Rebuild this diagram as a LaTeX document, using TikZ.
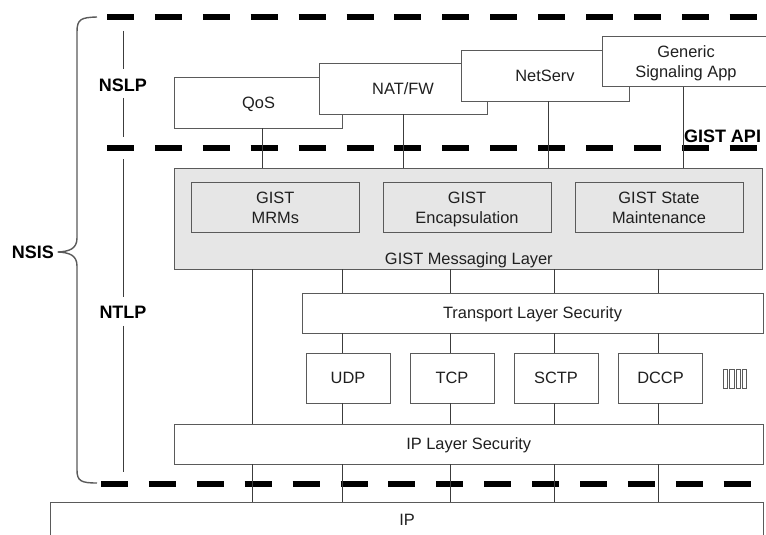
\documentclass[tikz,border=0pt]{standalone}
\usepackage{fontspec}
\setmainfont{Liberation Sans}
\definecolor{edge}{HTML}{5A5A5A}
\definecolor{wire}{HTML}{3C3C3C}
\definecolor{fillg}{HTML}{E6E6E6}
\definecolor{ink}{HTML}{1F1F1F}
\tikzset{
  box/.style={draw=edge, line width=1pt, fill=white, inner sep=0pt, outer sep=0pt,
    minimum height=50pt, font=\fontsize{16.4}{20}\selectfont, text=ink,
    text depth=0pt, align=center},
  greybox/.style={box, fill=fillg},
  txt/.style={font=\fontsize{16.4}{20}\selectfont, text=ink, inner sep=0pt, text depth=0pt},
  conn/.style={draw=wire, line width=1pt},
  apiline/.style={draw=black, line width=6pt, dash pattern=on 27pt off 20.9pt},
  tag/.style={font=\fontsize{18}{20}\selectfont\bfseries, text=black, inner sep=0pt, text depth=0pt},
  bracket/.style={draw=edge, line width=1.4pt},
}
\begin{document}
\begin{tikzpicture}[x=1pt,y=-1pt]
\clip (0,0) rectangle (766,535);
\fill[white] (0,0) rectangle (766,535);

% layer separators
\draw[apiline] (107,17) -- (800,17);
\draw[apiline] (107,148) -- (800,148);
\draw[apiline] (101,484) -- (800,484);

% NSLP applications (each one overlapping the previous)
\node[box, minimum width=168pt] (qos) at (258.6,103) {QoS};
\node[box, minimum width=168pt] (natfw) at (403,89) {NAT/FW};
\node[box, minimum width=168pt] (netserv) at (545,76) {NetServ};
\node[box, minimum width=168pt] (gsa) at (686,62) {Generic\\Signaling App};

% GIST messaging layer
\node[greybox, minimum width=588pt, minimum height=101pt] (gml) at (468.85,218.5) {};
\node[txt] (gmltxt) at ([yshift=10.4pt]gml.south) {GIST Messaging Layer};
\node[greybox, minimum width=168pt] (mrm) at (275.3,207.5) {GIST\\MRMs};
\node[greybox, minimum width=168pt] (enc) at (467,207.5) {GIST\\Encapsulation};
\node[greybox, minimum width=168pt] (stm) at (659,207.5) {GIST State\\Maintenance};

% transport
\node[box, minimum width=461pt, minimum height=40pt] (tls) at (532.5,313) {Transport Layer Security};
\node[box, minimum width=84pt] (udp) at (348,378) {UDP};
\node[box, minimum width=84pt] (tcp) at (452,378) {TCP};
\node[box, minimum width=84pt] (sctp) at (556,378) {SCTP};
\node[box, minimum width=84pt] (dccp) at (660.5,378) {DCCP};
\foreach \i in {0,...,3}
  \draw[draw=edge, line width=0.9pt] (723.5+6.3*\i,369.5) rectangle ++(4.3,18.5);

% network
\node[box, minimum width=588.5pt, minimum height=40pt] (ipls) at (468.75,444) {IP Layer Security};
\node[box, minimum width=713pt, minimum height=60pt] (ip) at (406.5,532) {};
\node[txt] (iptxt) at (407,520) {IP};

% column positions of the connectors
\coordinate (u1) at (262,0);
\coordinate (u2) at (403,0);
\coordinate (u3) at (548,0);
\coordinate (u4) at (683,0);
\coordinate (k1) at (252.5,0);
\coordinate (k2) at (342.5,0);
\coordinate (k3) at (450,0);
\coordinate (k4) at (554.5,0);
\coordinate (k5) at (658.5,0);

% applications down to GIST
\draw[conn] (qos.south -| u1) -- (gml.north -| u1);
\draw[conn] (natfw.south -| u2) -- (gml.north -| u2);
\draw[conn] (netserv.south -| u3) -- (gml.north -| u3);
\draw[conn] (gsa.south -| u4) -- (gml.north -| u4);

% GIST down to IP
\draw[conn] (gml.south -| k1) -- (ipls.north -| k1);
\draw[conn] (ipls.south -| k1) -- (ip.north -| k1);
\foreach \c/\b in {k2/udp,k3/tcp,k4/sctp,k5/dccp}{
  \draw[conn] (gml.south -| \c) -- (tls.north -| \c);
  \draw[conn] (tls.south -| \c) -- (\b.north -| \c);
  \draw[conn] (\b.south -| \c) -- (ipls.north -| \c);
  \draw[conn] (ipls.south -| \c) -- (ip.north -| \c);
}

% layer labels
\node[tag] (nslp) at (123,85) {NSLP};
\node[tag] (ntlp) at (123,312) {NTLP};
\node[tag] (nsis) at (33,252) {NSIS};
\node[tag] (api) at (722.5,136.5) {GIST API};

\coordinate (nslptop) at (123,31);
\coordinate (nslpbot) at (123,137);
\coordinate (ntlptop) at (123,159);
\coordinate (ntlpbot) at (123,472);
\draw[conn] (nslptop) -- ([yshift=9.5pt]nslp.north);
\draw[conn] ([yshift=-6.5pt]nslp.south) -- (nslpbot);
\draw[conn] (ntlptop) -- ([yshift=9pt]ntlp.north);
\draw[conn] ([yshift=-7.5pt]ntlp.south) -- (ntlpbot);

% NSIS brace
\draw[bracket] (97,17) .. controls (81,17.5) and (77,19) .. (77,32)
  -- (77,238) .. controls (77,249) and (69,251.5) .. ([xshift=3.5pt]nsis.east)
  .. controls (69,252.5) and (77,255) .. (77,266)
  -- (77,470) .. controls (77,481) and (81,483) .. (97,483);
\end{tikzpicture}
\end{document}
